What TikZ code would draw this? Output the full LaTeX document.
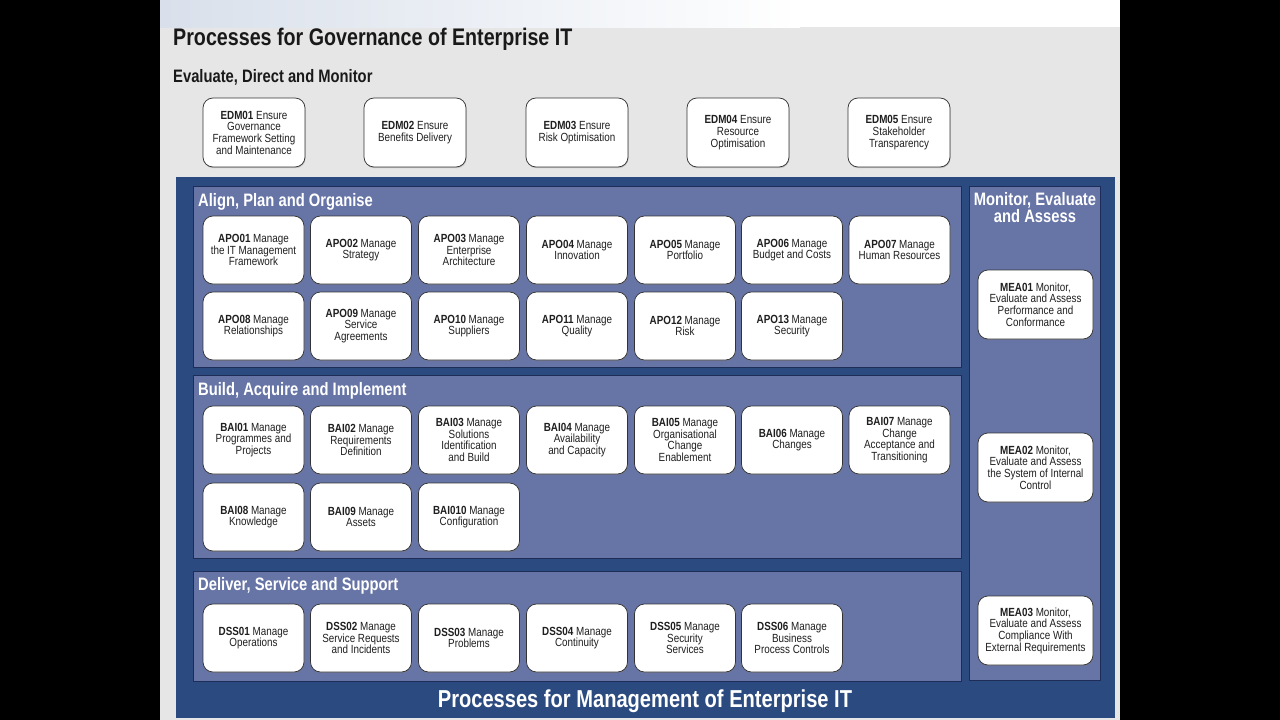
\documentclass[tikz,border=0pt]{standalone}
\usepackage{fontspec}
\setmainfont{Liberation Sans}[FakeStretch=0.835]
\newfontfamily\titlefont{Liberation Sans}[FakeStretch=0.82]
\usetikzlibrary{shadows}
\definecolor{outerblue}{HTML}{2B4A80}
\definecolor{panelblue}{HTML}{6674A6}
\definecolor{paneledge}{HTML}{1E2D58}
\definecolor{govgray}{HTML}{E6E6E6}
\definecolor{topblue}{HTML}{D9E0EB}
\tikzset{
  proc/.style={draw=black!80, fill=white, rounded corners=10pt, line width=0.75pt,
    minimum width=101pt, minimum height=68pt, align=center, inner sep=1pt,
    font=\fontsize{11.8}{11.7}\selectfont, text=black!88,
    drop shadow={shadow xshift=0.6pt, shadow yshift=-1.2pt, opacity=0.35}},
  edmbox/.style={proc, minimum width=102pt, minimum height=69pt, drop shadow={opacity=0}},
  meabox/.style={proc, minimum width=115pt, minimum height=69pt},
  panel/.style={fill=panelblue, draw=paneledge, line width=1pt},
  ptitle/.style={anchor=base west, inner sep=0pt, text=white, font=\titlefont\bfseries\fontsize{18}{19}\selectfont},
}
\begin{document}
\begin{tikzpicture}[x=1pt,y=-1pt]
\useasboundingbox (0,0) rectangle (1280,720);
\fill[black] (0,0) rectangle (1280,720);
\fill[govgray] (160,27) rectangle (1120,720);
\shade[left color=topblue, right color=white] (160,0) rectangle (800,27);
\fill[white] (800,0) rectangle (1120,27);

% governance titles
\node[anchor=base west, inner sep=0pt, font=\titlefont\bfseries\fontsize{24}{26}\selectfont, text=black!90] (govtitle) at (173,45) {Processes for Governance of Enterprise IT};
\node[anchor=base west, inner sep=0pt, font=\titlefont\bfseries\fontsize{18}{20}\selectfont, text=black!90] (edmtitle) at (173,82.5) {Evaluate, Direct and Monitor};

% EDM boxes
\node[edmbox] (edm01) at (254,132.5) {\textbf{EDM01} Ensure\\Governance\\Framework Setting\\and Maintenance};
\node[edmbox] (edm02) at (415,132.5) {\textbf{EDM02} Ensure\\Benefits Delivery};
\node[edmbox] (edm03) at (577,132.5) {\textbf{EDM03} Ensure\\Risk Optimisation};
\node[edmbox] (edm04) at (738,132.5) {\textbf{EDM04} Ensure\\Resource\\Optimisation};
\node[edmbox] (edm05) at (899,132.5) {\textbf{EDM05} Ensure\\Stakeholder\\Transparency};

% management area
\fill[outerblue] (176,177) rectangle (1115,718);
\draw[panel] (193,186) rectangle (961,367);
\draw[panel] (193,375) rectangle (961,558);
\draw[panel] (193,571) rectangle (961,681);
\draw[panel] (969,186) rectangle (1100,680);

\node[ptitle] (apotitle) at (198,206) {Align, Plan and Organise};
\node[ptitle] (baititle) at (198,395) {Build, Acquire and Implement};
\node[ptitle] (dsstitle) at (198,590) {Deliver, Service and Support};
\node[inner sep=0pt, text=white, align=center, font=\titlefont\bfseries\fontsize{18}{17.5}\selectfont, anchor=north] (meatitle) at (1035,192) {Monitor, Evaluate\\and Assess};
\node[anchor=base, inner sep=0pt, text=white, font=\titlefont\bfseries\fontsize{24.5}{26}\selectfont] (mgmttitle) at (645,707) {Processes for Management of Enterprise IT};

% APO
\node[proc] (apo01) at (253.5,250) {\textbf{APO01} Manage\\the IT Management\\Framework};
\node[proc] (apo02) at (361,250) {\textbf{APO02} Manage\\Strategy};
\node[proc] (apo03) at (469,250) {\textbf{APO03} Manage\\Enterprise\\Architecture};
\node[proc] (apo04) at (577,250) {\textbf{APO04} Manage\\Innovation};
\node[proc] (apo05) at (685,250) {\textbf{APO05} Manage\\Portfolio};
\node[proc] (apo06) at (792,250) {\textbf{APO06} Manage\\Budget and Costs};
\node[proc] (apo07) at (899.5,250) {\textbf{APO07} Manage\\Human Resources};
\node[proc] (apo08) at (253.5,326) {\textbf{APO08} Manage\\Relationships};
\node[proc] (apo09) at (361,326) {\textbf{APO09} Manage\\Service\\Agreements};
\node[proc] (apo10) at (469,326) {\textbf{APO10} Manage\\Suppliers};
\node[proc] (apo11) at (577,326) {\textbf{APO11} Manage\\Quality};
\node[proc] (apo12) at (685,326) {\textbf{APO12} Manage\\Risk};
\node[proc] (apo13) at (792,326) {\textbf{APO13} Manage\\Security};

% BAI
\node[proc] (bai01) at (253.5,440) {\textbf{BAI01} Manage\\Programmes and\\Projects};
\node[proc] (bai02) at (361,440) {\textbf{BAI02} Manage\\Requirements\\Definition};
\node[proc] (bai03) at (469,440) {\textbf{BAI03} Manage\\Solutions\\Identification\\and Build};
\node[proc] (bai04) at (577,440) {\textbf{BAI04} Manage\\Availability\\and Capacity};
\node[proc] (bai05) at (685,440) {\textbf{BAI05} Manage\\Organisational\\Change\\Enablement};
\node[proc] (bai06) at (792,440) {\textbf{BAI06} Manage\\Changes};
\node[proc] (bai07) at (899.5,440) {\textbf{BAI07} Manage\\Change\\Acceptance and\\Transitioning};
\node[proc] (bai08) at (253.5,517) {\textbf{BAI08} Manage\\Knowledge};
\node[proc] (bai09) at (361,517) {\textbf{BAI09} Manage\\Assets};
\node[proc] (bai10) at (469,517) {\textbf{BAI010} Manage\\Configuration};

% DSS
\node[proc] (dss01) at (253.5,638) {\textbf{DSS01} Manage\\Operations};
\node[proc] (dss02) at (361,638) {\textbf{DSS02} Manage\\Service Requests\\and Incidents};
\node[proc] (dss03) at (469,638) {\textbf{DSS03} Manage\\Problems};
\node[proc] (dss04) at (577,638) {\textbf{DSS04} Manage\\Continuity};
\node[proc] (dss05) at (685,638) {\textbf{DSS05} Manage\\Security\\Services};
\node[proc] (dss06) at (792,638) {\textbf{DSS06} Manage\\Business\\Process Controls};

% MEA
\node[meabox] (mea01) at (1035.5,304.5) {\textbf{MEA01} Monitor,\\Evaluate and Assess\\Performance and\\Conformance};
\node[meabox] (mea02) at (1035.5,467.5) {\textbf{MEA02} Monitor,\\Evaluate and Assess\\the System of Internal\\Control};
\node[meabox] (mea03) at (1035.5,630.5) {\textbf{MEA03} Monitor,\\Evaluate and Assess\\Compliance With\\External Requirements};
\end{tikzpicture}
\end{document}
